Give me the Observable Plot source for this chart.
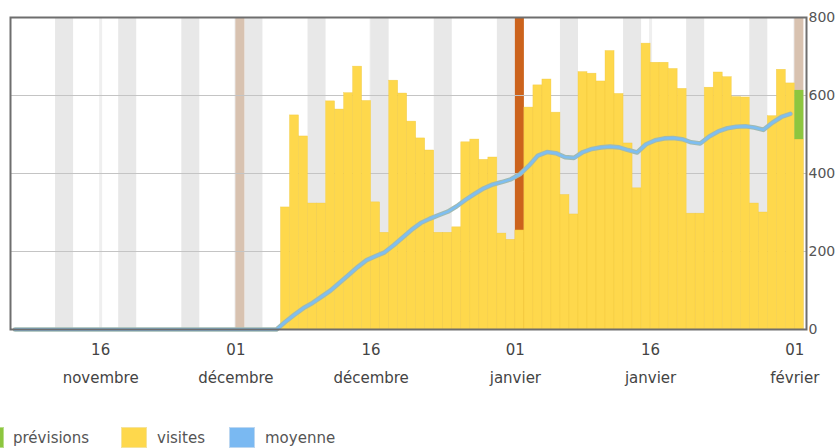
<!DOCTYPE html>
<html><head><meta charset="utf-8">
<script src="https://cdn.jsdelivr.net/npm/d3@7"></script>
<script src="https://cdn.jsdelivr.net/npm/@observablehq/plot@0.6"></script>
<style>
body{margin:0;background:#fff;font-family:"DejaVu Sans",sans-serif;}
#wrap{position:relative;width:835px;height:448px;overflow:hidden;}
.sw{position:absolute;top:427px;width:26px;height:21px;box-sizing:border-box;border:1px solid;}
.lab{position:absolute;top:429px;font-size:15px;line-height:18px;color:#555;white-space:nowrap;}
</style></head>
<body><div id="wrap"><div id="chart"></div></div>
<script>
// ---- data ----
const domainStart = "2017-11-06";
const domainEnd = "2018-02-02T07:00";

const visitesStart = "2017-12-06";
const visites = [
  313, 549, 495, 323, 323, 585, 564, 606, 674, 586, 326, 248, 638, 605, 533, 490, 459, 248, 248, 262, 480, 487, 435, 441, 246, 230,
  254, 569, 626, 641, 556, 345, 295, 660, 656, 636, 714, 604, 477, 362, 733, 684, 684, 668, 617, 297, 297, 620, 659, 647, 596, 595, 323, 300, 547, 666, 631,
  487
];

const previsionDates = ["2018-02-01"];
const previsionValues = [613];

const moyenneStart = "2017-11-06";
const moyenne = [
  0, 0, 0, 0, 0, 0, 0, 0, 0, 0, 0, 0, 0, 0, 0, 0, 0, 0, 0, 0, 0, 0, 0, 0, 0, 0, 0, 0, 0, 0,
  20, 38, 55, 68, 84, 100, 120, 140, 160, 178, 188, 198, 216, 236, 256, 273, 284, 293, 302, 316, 333, 348, 362, 372, 378, 385,
  398, 420, 446, 455, 452, 442, 440, 455, 463, 467, 469, 467, 460, 454, 475, 485, 490, 491, 488, 480, 477, 495, 508, 516, 520, 521, 518, 512, 530, 545, 553
];

const weekendSaturdays = ["2017-11-11","2017-11-18","2017-11-25","2017-12-02","2017-12-09","2017-12-16","2017-12-23","2017-12-30","2018-01-06","2018-01-13","2018-01-20","2018-01-27"];
const monthMarkers = ["2017-12-01","2018-01-01","2018-02-01"];
const monthMarkerColors = ["#d8c2b0","#cc631c","#d8c2b0"];

const tickDates = ["2017-11-16","2017-12-01","2017-12-16","2018-01-01","2018-01-16","2018-02-01"];
const tickDays = ["16","01","16","01","16","01"];
const tickMonths = ["novembre","décembre","décembre","janvier","janvier","février"];

const yTicks = [0, 200, 400, 600, 800];

const legendLabels = ["prévisions","visites","moyenne"];
const legendFills = ["#8dc63f","#fed84c","#7ab9f2"];
const legendBorders = ["#b9de8a","#f5e39c","#bcd7f1"];

// ---- build ----
const P = s => new Date(s + (s.length === 10 ? "T00:00Z" : "Z"));
const day = 864e5;
const vStart = P(visitesStart);
const visitData = visites.map((v, i) => ({d: new Date(+vStart + i * day), v}));
const visitByDate = new Map(visitData.map(o => [+o.d, o.v]));
const prevData = previsionDates.map((s, i) => ({d: P(s), top: previsionValues[i], base: visitByDate.get(+P(s)) || 0}));
const mStart = P(moyenneStart);
const moyData = moyenne.map((v, i) => ({d: new Date(+mStart + i * day + day / 2), v}));
const weekendData = weekendSaturdays.map(s => ({d1: P(s), d2: new Date(+P(s) + 2 * day)}));
const markerData = monthMarkers.map((s, i) => ({d1: P(s), d2: new Date(+P(s) + day), c: monthMarkerColors[i]}));
const tickData = tickDates.map((s, i) => ({d: P(s), day: tickDays[i], month: tickMonths[i]}));

const chart = Plot.plot({
  width: 835,
  height: 420,
  marginLeft: 10,
  marginRight: 29,
  marginTop: 17,
  marginBottom: 91,
  style: {fontFamily: "DejaVu Sans", fontSize: "15px", background: "#fff"},
  x: {type: "utc", domain: [P(domainStart), P(domainEnd)], axis: null},
  y: {domain: [0, 800], axis: null},
  marks: [
    Plot.ruleX(tickData, {x: "d", stroke: "#efefef", strokeWidth: 3}),
    Plot.rect(weekendData, {x1: "d1", x2: "d2", y1: 0, y2: 800, fill: "#e8e8e8"}),
    Plot.rect(markerData, {x1: "d1", x2: "d2", y1: 0, y2: 800, fill: "c"}),
    Plot.ruleY([200, 400, 600], {stroke: "#c4c4c4", strokeWidth: 1}),
    Plot.rectY(visitData, {x1: "d", x2: d => new Date(+d.d + day), y: "v", fill: "#fed84c", stroke: "#efc63c", strokeWidth: 0.5, strokeOpacity: 0.7}),
    Plot.rect(prevData, {x1: "d", x2: d => new Date(+d.d + day), y1: "base", y2: "top", fill: "#8dc63f"}),
    Plot.line(moyData, {x: "d", y: "v", stroke: "#a0bab2", strokeWidth: 4.6}),
    Plot.line(moyData, {x: "d", y: "v", stroke: "#7dbef2", strokeWidth: 2.4}),
    Plot.frame({stroke: "#6e6e6e", strokeWidth: 2}),
    Plot.axisY({anchor: "right", ticks: yTicks, tickSize: 0, tickPadding: 2, label: null, fill: "#555", fontSize: 14}),
    Plot.text(tickData, {x: "d", text: "day", frameAnchor: "bottom", dy: 21, lineAnchor: "middle", fill: "#444", fontSize: 15}),
    Plot.text(tickData, {x: "d", text: "month", frameAnchor: "bottom", dy: 49, lineAnchor: "middle", fill: "#444", fontSize: 15})
  ]
});
document.getElementById("chart").append(chart);

const wrap = document.getElementById("wrap");
const swLeft = [-22, 121, 229];
const labLeft = [13, 157, 265];
legendLabels.forEach((t, i) => {
  const sw = document.createElement("div");
  sw.className = "sw";
  sw.style.left = swLeft[i] + "px";
  sw.style.background = legendFills[i];
  sw.style.borderColor = legendBorders[i];
  wrap.append(sw);
  const lab = document.createElement("div");
  lab.className = "lab";
  lab.style.left = labLeft[i] + "px";
  lab.textContent = t;
  wrap.append(lab);
});
</script>
</body></html>
